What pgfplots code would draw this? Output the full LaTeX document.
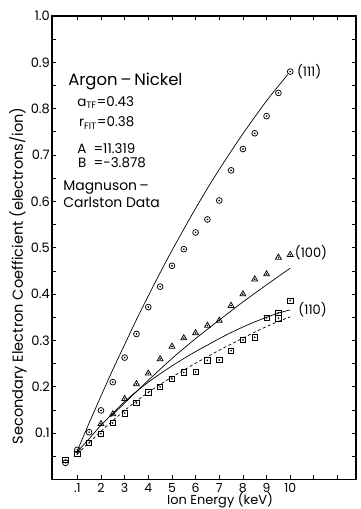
\documentclass[border=0pt]{standalone}
\usepackage{fontspec}
\setmainfont{Poppins}
\usepackage{pgfplots}
\usepackage{pgfplotstable}
\pgfplotsset{compat=1.18}

\pgfplotstableread{
x y
0.5 0.036
1.0 0.064
1.5 0.102
2.0 0.149
2.5 0.210
3.0 0.263
3.5 0.314
4.0 0.372
4.5 0.416
5.0 0.461
5.5 0.497
6.0 0.533
6.5 0.561
7.0 0.602
7.5 0.667
8.0 0.713
8.5 0.747
9.0 0.784
9.5 0.834
10.0 0.880
}\dataA

\pgfplotstableread{
x y
2.0 0.120
2.5 0.141
3.0 0.174
3.5 0.206
4.0 0.229
4.5 0.260
5.0 0.287
5.5 0.305
6.0 0.316
6.5 0.332
7.0 0.343
7.5 0.375
8.0 0.400
8.5 0.432
9.0 0.443
9.5 0.479
10.0 0.485
}\dataB

\pgfplotstableread{
x y
0.5 0.042
1.0 0.055
1.5 0.079
2.0 0.099
2.5 0.122
3.0 0.143
3.5 0.165
4.0 0.188
4.5 0.200
5.0 0.217
5.5 0.231
6.0 0.232
6.5 0.257
7.0 0.258
7.5 0.278
8.0 0.301
8.5 0.307
9.0 0.349
9.5 0.360
9.5 0.348
10.0 0.386
}\dataC

\begin{document}
\begin{tikzpicture}
\begin{axis}[
  at={(0,0)}, anchor=south west,
  scale only axis, width=304bp, height=463.5bp,
  xmin=-0.07, xmax=12.78, ymin=0, ymax=1,
  axis line style={line width=1.1pt},
  tick style={line width=0.8pt, black},
  major tick length=4bp, minor tick length=4bp,
  tick align=inside,
  xtick={1,2,3,4,5,6,7,8,9,10,11,12},
  xticklabels={.1,2,3,4,5,6,7,8,9,10,,},
  ytick={0.1,0.2,0.3,0.4,0.5,0.6,0.7,0.8,0.9,1.0},
  yticklabels={0.1,0.2,0.3,0.4,0.5,0.6,0.7,0.8,0.9,1.0},
  minor ytick={0.05,0.15,0.25,0.35,0.45,0.55,0.65,0.75,0.85,0.95},
  yticklabel style={inner sep=0pt, anchor=east, xshift=-2bp, font=\fontsize{13}{14}\selectfont},
  xticklabel style={inner sep=0pt, anchor=north, yshift=-3.5bp, font=\fontsize{12.5}{13}\selectfont},
  xlabel={Ion Energy (keV)},
  xlabel style={at={(axis description cs:0.553,0)}, anchor=base, yshift=-25bp, inner sep=0pt, font=\fontsize{13}{14}\selectfont},
  clip=false,
]
% fitted curves
\addplot[black, line width=0.7pt, smooth] coordinates {
(1,0.062)(1.5,0.122)(2,0.180)(2.5,0.237)(3,0.291)(3.5,0.345)(4,0.396)(4.5,0.446)(5,0.494)(5.5,0.540)(6,0.585)(6.5,0.628)(7,0.669)(7.5,0.708)(8,0.746)(8.5,0.782)(9,0.817)(9.5,0.849)(9.9,0.874)};
\addplot[black, line width=0.7pt, smooth] coordinates {
(2.4,0.135)(3,0.165)(4,0.214)(5,0.261)(6,0.304)(7,0.344)(8,0.383)(9,0.420)(10,0.456)};
\addplot[black, line width=0.7pt, smooth] coordinates {
(1,0.06)(1.5,0.088)(2,0.117)(2.5,0.143)(3,0.168)(3.5,0.19)(4,0.21)(4.5,0.228)(5,0.245)(5.5,0.261)(6,0.276)(6.5,0.290)(7,0.304)(7.5,0.317)(8,0.329)(8.5,0.340)(9,0.350)(9.5,0.359)(10,0.366)};
\addplot[black, line width=0.7pt, smooth, dash pattern=on 3bp off 2.5bp] coordinates {
(1,0.055)(1.5,0.08)(2,0.104)(2.5,0.127)(3,0.149)(3.5,0.169)(4,0.188)(4.5,0.205)(5,0.221)(5.5,0.236)(6,0.251)(6.5,0.265)(7,0.279)(7.5,0.292)(8,0.305)(8.5,0.318)(9,0.33)(9.5,0.341)(10,0.351)};
% markers
\addplot[only marks, mark=o, mark size=2.9bp, mark options={line width=0.75pt, black}] table {\dataA};
\addplot[only marks, mark=*, mark size=0.6bp, mark options={black}] table {\dataA};
\addplot[only marks, mark=triangle, mark size=3.4bp, mark options={line width=0.75pt, black}] table {\dataB};
\addplot[only marks, mark=*, mark size=0.6bp, mark options={black}] table {\dataB};
\addplot[only marks, mark=square, mark size=2.7bp, mark options={line width=0.75pt, black}] table {\dataC};
\addplot[only marks, mark=*, mark size=0.6bp, mark options={black}] table {\dataC};
% y label
\node[rotate=90, anchor=center, inner sep=0pt, font=\fontsize{14.6}{16}\selectfont] at (rel axis cs:-0.1118,0.439) {Secondary Electron Coefficient (electrons/ion)};
% labels
\node[anchor=west, inner sep=0pt, font=\fontsize{13}{14}\selectfont] at (axis cs:10.28,0.879) {(111)};
\node[anchor=west, inner sep=0pt, font=\fontsize{13}{14}\selectfont] at (axis cs:10.19,0.489) {(100)};
\node[anchor=west, inner sep=0pt, font=\fontsize{13}{14}\selectfont] at (axis cs:10.34,0.367) {(110)};
\node[anchor=west, inner sep=0pt, font=\fontsize{16.5}{18}\selectfont] at (axis cs:0.61,0.858) {Argon\,--\,Nickel};
\node[anchor=west, inner sep=0pt, font=\fontsize{13.5}{15}\selectfont] at (axis cs:0.99,0.814) {a\textsubscript{TF}=0.43};
\node[anchor=west, inner sep=0pt, font=\fontsize{13.5}{15}\selectfont] at (axis cs:1.07,0.769) {r\textsubscript{FIT}=0.38};
\node[anchor=west, inner sep=0pt, font=\fontsize{13.5}{15}\selectfont] at (axis cs:0.99,0.715) {A\ \ =11.319};
\node[anchor=west, inner sep=0pt, font=\fontsize{13.5}{15}\selectfont] at (axis cs:1.03,0.683) {B\ \ =-3.878};
\node[anchor=west, inner sep=0pt, font=\fontsize{14}{15}\selectfont] at (axis cs:0.40,0.629) {Magnuson\,--};
\node[anchor=west, inner sep=0pt, font=\fontsize{14}{15}\selectfont] at (axis cs:0.40,0.597) {Carlston Data};
\end{axis}
\pgfresetboundingbox
\useasboundingbox (-52bp,-29.5bp) rectangle (309bp,479.5bp);
\end{tikzpicture}
\end{document}
